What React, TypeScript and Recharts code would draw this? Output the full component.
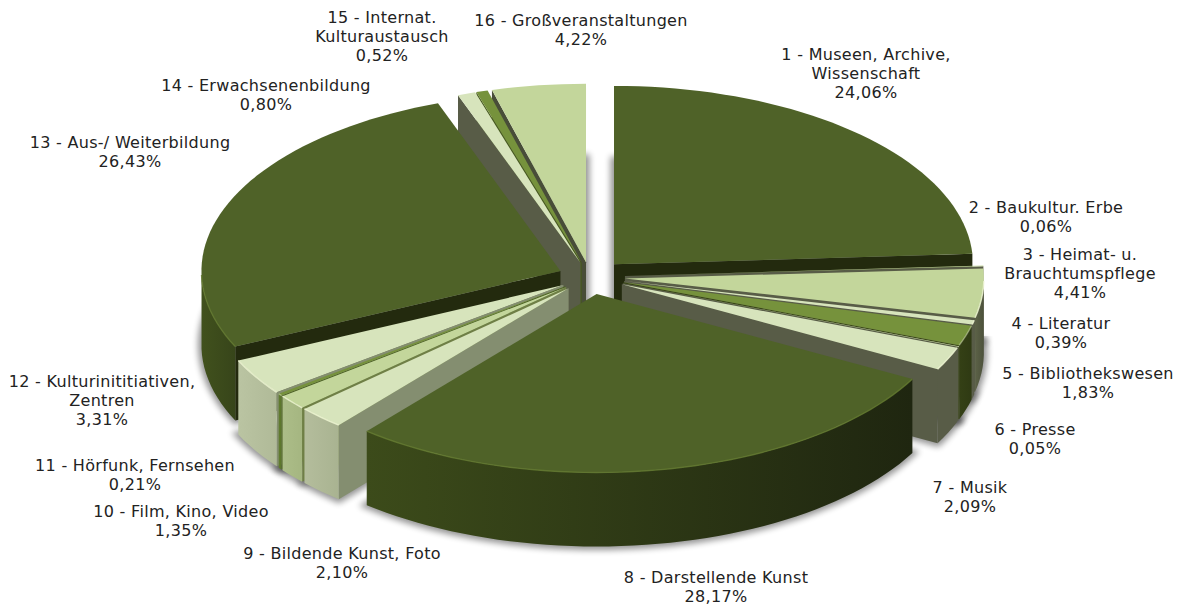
import React from 'react';
import { PieChart, Pie } from 'recharts';

const categoryLabels = [
  ['1 - Museen, Archive,', 'Wissenschaft'],
  ['2 - Baukultur. Erbe'],
  ['3 - Heimat- u.', 'Brauchtumspflege'],
  ['4 - Literatur'],
  ['5 - Bibliothekswesen'],
  ['6 - Presse'],
  ['7 - Musik'],
  ['8 - Darstellende Kunst'],
  ['9 - Bildende Kunst, Foto'],
  ['10 - Film, Kino, Video'],
  ['11 - Hörfunk, Fernsehen'],
  ['12 - Kulturinititiativen,', 'Zentren'],
  ['13 - Aus-/ Weiterbildung'],
  ['14 - Erwachsenenbildung'],
  ['15 - Internat.', 'Kulturaustausch'],
  ['16 - Großveranstaltungen'],
];
const shares = [24.06, 0.06, 4.41, 0.39, 1.83, 0.05, 2.09, 28.17, 2.1, 1.35, 0.21, 3.31, 26.43, 0.8, 0.52, 4.22];

const DARK = '#4f6228';
const SOFT = '#c3d69b';
const PALE = '#d7e4bc';
const MID = '#76923c';
const topColors = [DARK, SOFT, SOFT, PALE, MID, PALE, PALE, DARK, PALE, SOFT, MID, PALE, DARK, PALE, MID, SOFT];
const wallFrom = ['#3b4a1b', '#5c6247', '#5c6247', '#585c47', '#344015', '#585c47', '#585c47', '#3c4b1a', '#b4bd9c', '#acbd88', '#627d30', '#bac4a2', '#41511d', '#585c47', '#46591f', '#5c6247'];
const wallTo = ['#20270f', '#4c513b', '#4c513b', '#585c47', '#2f3a13', '#585c47', '#585c47', '#1f2610', '#a9b391', '#a5b681', '#5a742b', '#b0ba98', '#37451a', '#585c47', '#46591f', '#5c6247'];
const cutColors = ['#232a0e', '#585c47', '#585c47', '#585c47', '#3a4718', '#585c47', '#585c47', '#232a0e', '#848e70', '#6f7f46', '#4b6024', '#848e70', '#232a0e', '#585c47', '#46591f', '#484d38'];

// how far each slice is pulled out of the centre
const explodeBy = [35, 35, 35, 35, 35, 35, 35, 35, 31, 31, 31, 31, 32, 30, 30, 30];

// label centres, one per category, same order
const labelX = [866, 1046, 1080, 1061, 1088, 1035, 970, 716, 342, 181, 135, 102, 130, 266, 382, 581];
const labelY = [54, 207, 254, 323, 373, 429, 487, 577, 553, 511, 465, 381, 142, 85, 17, 20];
const LINE_HEIGHT = 19;

const WIDTH = 1181;
const HEIGHT = 606;
const CX = 590;
const CY = 277;
const RADIUS = 359;
const TILT = 0.497;
const DEPTH = 74;

const pieData = shares.map((value, i) => ({ name: categoryLabels[i][0], value }));

// back slices first so that the nearer ones paint over them
const sliceMid = (i: number) => {
  const before = shares.slice(0, i).reduce((a, b) => a + b, 0);
  return ((before + shares[i] / 2) / 100) * 2 * Math.PI;
};
const drawOrder = shares.map((_, i) => i).sort((a, b) => Math.cos(sliceMid(b)) - Math.cos(sliceMid(a)));

type Pt = [number, number];
const toPath = (pts: Pt[], close = true) =>
  pts.map((p, i) => `${i ? 'L' : 'M'}${p[0].toFixed(2)} ${p[1].toFixed(2)}`).join(' ') + (close ? ' Z' : '');
const drop = (pts: Pt[], h: number): Pt[] => pts.map((p) => [p[0], p[1] + h]);

function sliceGeometry(props: any) {
  const { startAngle, endAngle, outerRadius, index } = props;
  const mid = ((startAngle + endAngle) / 2) * (Math.PI / 180);
  const ax = props.cx + explodeBy[index] * Math.cos(mid);
  const ay = props.cy - explodeBy[index] * Math.sin(mid) * TILT;
  const at = (deg: number): Pt => {
    const a = (deg * Math.PI) / 180;
    return [ax + outerRadius * Math.cos(a), ay - outerRadius * Math.sin(a) * TILT];
  };
  const steps = Math.max(2, Math.ceil(Math.abs(startAngle - endAngle) / 2));
  const angles: number[] = [];
  for (let s = 0; s <= steps; s++) angles.push(startAngle + ((endAngle - startAngle) * s) / steps);
  return { apex: [ax, ay] as Pt, arc: angles.map(at), angles, at };
}

// outer rim only shows on the near half of the ellipse
const isNear = (deg: number) => Math.sin((deg * Math.PI) / 180) < 0.001;

function SliceShadow(props: any) {
  const { apex, arc } = sliceGeometry(props);
  const id = `shadow-${props.index}`;
  return (
    <g>
      <defs>
        <filter id={id} x="-30%" y="-30%" width="160%" height="160%">
          <feGaussianBlur stdDeviation="3" />
        </filter>
      </defs>
      <path
        d={toPath(drop([apex, ...arc], DEPTH))}
        fill="#000"
        stroke="#000"
        strokeWidth={7}
        opacity={0.42}
        filter={`url(#${id})`}
      />
    </g>
  );
}

function Slice3D(props: any) {
  const i = props.index;
  const { apex, arc, angles } = sliceGeometry(props);
  const first = arc[0];
  const last = arc[arc.length - 1];
  const gradId = `wall-${i}`;

  const cross = (u: Pt, v: Pt) => u[0] * v[1] - u[1] * v[0];
  const vec = (p: Pt): Pt => [p[0] - apex[0], p[1] - apex[1]];
  const faces = (edge: Pt, other: Pt) => cross(vec(edge), [0, 1]) * cross(vec(edge), vec(other)) < 0;

  const near = arc.filter((_, k) => isNear(angles[k]));
  const wall = near.length > 1 ? toPath([...near, ...drop(near, DEPTH).reverse()]) : null;
  const rim = near.length > 1 ? toPath(near, false) : null;
  const isDark = topColors[i] === DARK;

  return (
    <g>
      <defs>
        <linearGradient id={gradId} x1="0" y1="0" x2="1" y2="0">
          <stop offset="0%" stopColor={wallFrom[i]} />
          <stop offset="100%" stopColor={wallTo[i]} />
        </linearGradient>
      </defs>
      {faces(first, last) && (
        <path d={toPath([apex, first, [first[0], first[1] + DEPTH], [apex[0], apex[1] + DEPTH]])} fill={cutColors[i]} />
      )}
      {faces(last, first) && (
        <path d={toPath([apex, last, [last[0], last[1] + DEPTH], [apex[0], apex[1] + DEPTH]])} fill={cutColors[i]} />
      )}
      {wall && <path d={wall} fill={`url(#${gradId})`} />}
      <path d={toPath([apex, ...arc])} fill={topColors[i]} />
      {rim && (
        <path
          d={rim}
          fill="none"
          stroke={isDark ? '#62782f' : '#eef6d4'}
          strokeWidth={1.4}
          opacity={topColors[i] === MID ? 0.4 : 0.85}
        />
      )}
    </g>
  );
}

function renderLabel(props: any) {
  const i = props.index;
  const lines = [...categoryLabels[i], `${shares[i].toFixed(2).replace('.', ',')}%`];
  return (
    <text
      key={i}
      textAnchor="middle"
      fontFamily="'DejaVu Sans', Verdana, sans-serif"
      fontSize={16}
      letterSpacing={0.3}
      fill="#222"
    >
      {lines.map((line, k) => (
        <tspan key={k} x={labelX[i]} y={labelY[i] + 6 + k * LINE_HEIGHT}>
          {line}
        </tspan>
      ))}
    </text>
  );
}

const sharedPie = {
  data: pieData,
  dataKey: 'value',
  cx: CX,
  cy: CY,
  innerRadius: 0,
  outerRadius: RADIUS,
  startAngle: 90,
  endAngle: -270,
  stroke: 'none',
  isAnimationActive: false,
};

export default function App() {
  return (
    <div style={{ position: 'absolute', left: 0, top: 0, width: WIDTH, height: HEIGHT, background: '#fff' }}>
      <PieChart width={WIDTH} height={HEIGHT} margin={{ top: 0, right: 0, bottom: 0, left: 0 }}>
        <Pie {...sharedPie} shape={(p: any) => <SliceShadow {...p} />} />
        {drawOrder.map((k) => (
          <Pie
            key={k}
            {...sharedPie}
            shape={(p: any) => (p.index === k ? <Slice3D {...p} /> : <g />)}
          />
        ))}
        <Pie {...sharedPie} shape={() => <g />} label={renderLabel} labelLine={false} />
      </PieChart>
    </div>
  );
}
